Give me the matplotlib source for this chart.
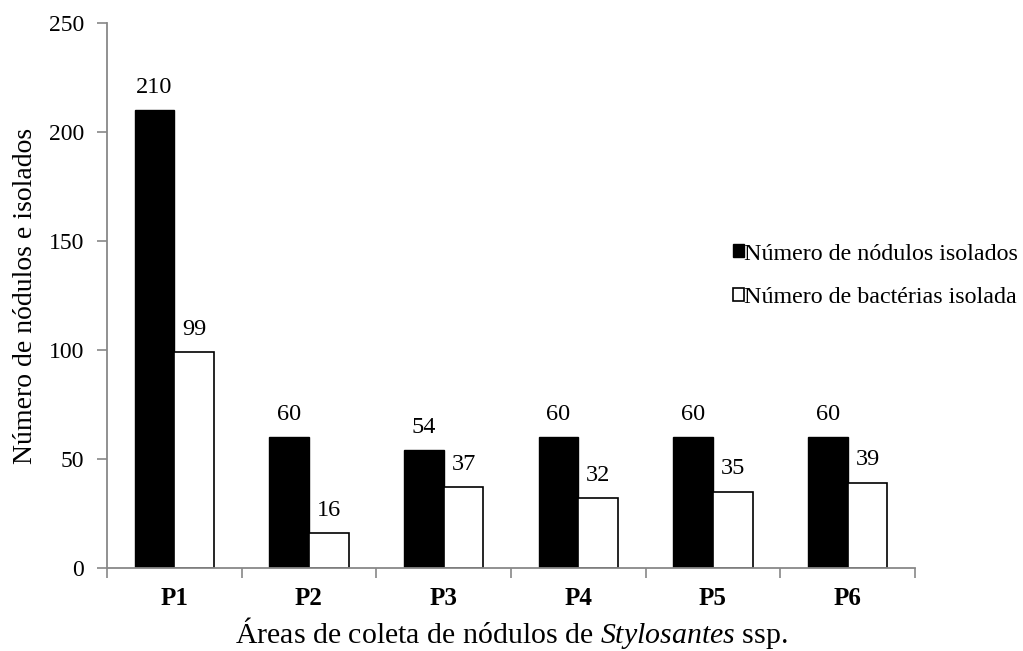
import numpy as np
import matplotlib.pyplot as plt

plt.rcParams['font.family'] = ['Liberation Serif', 'DejaVu Serif']
plt.rcParams['mathtext.fontset'] = 'custom'
plt.rcParams['mathtext.rm'] = 'Liberation Serif'
plt.rcParams['mathtext.it'] = 'Liberation Serif:italic'

areas = ['P1', 'P2', 'P3', 'P4', 'P5', 'P6']
nodulos = [210, 60, 54, 60, 60, 60]
bacterias = [99, 16, 37, 32, 35, 39]

fig = plt.figure(figsize=(10.23, 6.51), dpi=100)
ax = fig.add_axes([0.1046, 0.1275, 0.7898, 0.8372])

x = np.arange(len(areas))
w = 0.295
b1 = ax.bar(x - w / 2, nodulos, w, color='black', edgecolor='black', linewidth=1,
            label='Número de nódulos isolados')
b2 = ax.bar(x + w / 2, bacterias, w, color='white', edgecolor='black', linewidth=1.2,
            label='Número de bactérias isolada')

for bars, vals in ((b1, nodulos), (b2, bacterias)):
    for r, v in zip(bars, vals):
        ax.annotate(str(v), (r.get_x() + r.get_width() / 2, v), xytext=(0, 9),
                    textcoords='offset points', ha='center', va='bottom', fontsize=17.5)

ax.set_xlim(-0.5, len(areas) - 0.5)
ax.set_ylim(0, 250)
ax.set_yticks(range(0, 251, 50))
ax.set_xticks(x)
ax.set_xticklabels(areas, fontweight='bold', fontsize=18)
ax.set_xticks(np.arange(-0.5, len(areas)), minor=True)
ax.tick_params(axis='x', which='major', length=0, pad=14)
ax.tick_params(axis='x', which='minor', length=7, color='#888888', width=1.2)
ax.tick_params(axis='y', length=7, color='#888888', width=1.2, labelsize=17, pad=9.5)

for s in ('top', 'right'):
    ax.spines[s].set_visible(False)
for s in ('left', 'bottom'):
    ax.spines[s].set_color('#888888')
    ax.spines[s].set_linewidth(1.3)

ax.set_ylabel('Número de nódulos e isolados', fontsize=20, labelpad=8)
ax.set_xlabel('Áreas de coleta de nódulos de $\\mathit{Stylosantes}$ ssp.', fontsize=21.5, labelpad=3)

ax.legend(loc='upper left', bbox_to_anchor=(0.7625, 0.613), frameon=False, fontsize=17.3,
          handlelength=0.45, handleheight=0.45, handletextpad=0.0, labelspacing=0.95,
          borderaxespad=0)

fig.savefig('out.png', dpi=100)
